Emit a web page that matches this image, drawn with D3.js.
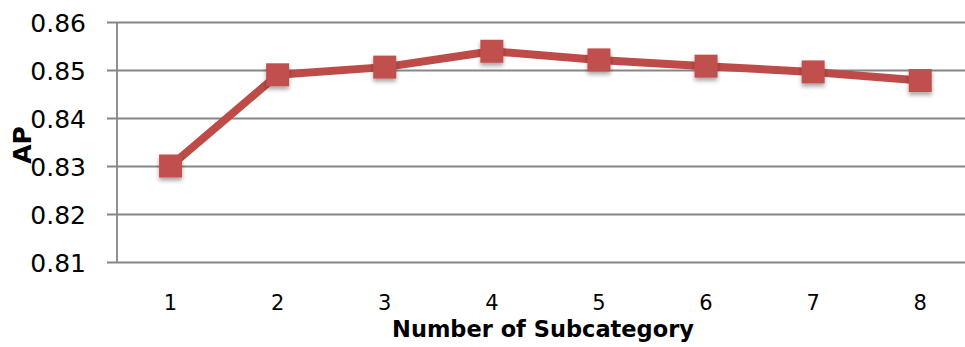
<!DOCTYPE html>
<html>
<head>
<meta charset="utf-8">
<script src="https://cdn.jsdelivr.net/npm/d3@7"></script>
<style>
  html, body { margin: 0; padding: 0; background: #fff; }
  svg { display: block; }
</style>
</head>
<body>
<svg id="chart" width="965" height="347"></svg>
<script>
// Average precision by number of subcategories
const categories = ["1", "2", "3", "4", "5", "6", "7", "8"];
const apValues = [0.830, 0.849, 0.8506, 0.8539, 0.8521, 0.8508, 0.8496, 0.8478];
const yTicks = [0.81, 0.82, 0.83, 0.84, 0.85, 0.86];

const svg = d3.select("#chart");
const W = 965, H = 347;
const margin = { left: 117, top: 22, bottom: 85 };
const plotRight = 117 + 8 * 107.1;

const x = d3.scaleBand().domain(categories).range([margin.left, plotRight]).padding(0);
const y = d3.scaleLinear().domain([0.81, 0.86]).range([H - margin.bottom, margin.top]);

const gridColor = "#868686";

// drop shadow for markers
const defs = svg.append("defs");
const f = defs.append("filter").attr("id", "shadow")
  .attr("x", "-50%").attr("y", "-50%").attr("width", "200%").attr("height", "200%");
f.append("feDropShadow").attr("dx", 0).attr("dy", 3).attr("stdDeviation", 2)
  .attr("flood-color", "#000").attr("flood-opacity", 0.35);

// horizontal gridlines + y axis labels
const yAxis = d3.axisLeft(y).tickValues(yTicks).tickFormat(d3.format(".2f"))
  .tickSize(-(W - margin.left + 10)).tickPadding(0);
const gy = svg.append("g").attr("transform", `translate(${margin.left},0)`).call(yAxis);
gy.select(".domain").remove();
gy.selectAll(".tick line")
  .attr("x1", -10).attr("x2", W - margin.left)
  .attr("stroke", gridColor).attr("stroke-width", 1.8);
gy.selectAll(".tick text")
  .attr("x", -31).attr("dy", "0.36em")
  .attr("font-family", "DejaVu Sans").attr("font-size", 25).attr("fill", "#000");

// vertical axis line
svg.append("line")
  .attr("x1", margin.left).attr("x2", margin.left)
  .attr("y1", y(0.86)).attr("y2", y(0.81))
  .attr("stroke", gridColor).attr("stroke-width", 1.8);

// category labels
const xAxis = d3.axisBottom(x).tickSize(0).tickPadding(0);
const gx = svg.append("g").attr("transform", `translate(0,${y(0.81)})`).call(xAxis);
gx.select(".domain").remove();
gx.selectAll(".tick text")
  .attr("y", 48).attr("dy", 0)
  .attr("font-family", "DejaVu Sans").attr("font-size", 21).attr("fill", "#000");

// axis titles
svg.append("text")
  .attr("x", 543).attr("y", 337)
  .attr("text-anchor", "middle")
  .attr("font-family", "DejaVu Sans").attr("font-weight", "bold").attr("font-size", 22.5)
  .attr("fill", "#000")
  .text("Number of Subcategory");

svg.append("text")
  .attr("transform", "translate(31,145) rotate(-90)")
  .attr("text-anchor", "middle")
  .attr("font-family", "DejaVu Sans").attr("font-weight", "bold").attr("font-size", 25)
  .attr("fill", "#000")
  .text("AP");

// series line
const cx = c => x(c) + x.bandwidth() / 2;
const line = d3.line().x((d, i) => cx(categories[i])).y(d => y(d));
svg.append("path")
  .datum(apValues)
  .attr("d", line)
  .attr("fill", "none")
  .attr("stroke", "#BE4B48")
  .attr("stroke-width", 8)
  .attr("stroke-linejoin", "round");

// square markers
const size = 23;
svg.append("g").selectAll("rect")
  .data(apValues)
  .join("rect")
  .attr("x", (d, i) => cx(categories[i]) - size / 2)
  .attr("y", d => y(d) - size / 2)
  .attr("width", size).attr("height", size)
  .attr("fill", "#C0504D")
  .attr("filter", "url(#shadow)");
</script>
</body>
</html>
